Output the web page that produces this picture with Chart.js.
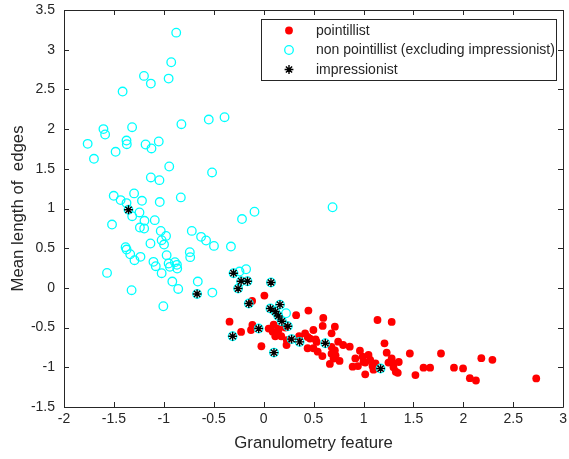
<!DOCTYPE html>
<html>
<head>
<meta charset="utf-8">
<script src="https://cdn.jsdelivr.net/npm/chart.js@4.4.1/dist/chart.umd.min.js"></script>
<style>
html,body{margin:0;padding:0;background:#fff;}
#wrap{width:569px;height:459px;position:relative;}
</style>
</head>
<body>
<div id="wrap"><canvas id="c" width="569" height="459"></canvas></div>
<script>
// ---- data ----
const xTicks = [-2, -1.5, -1, -0.5, 0, 0.5, 1, 1.5, 2, 2.5, 3];
const yTicks = [-1.5, -1, -0.5, 0, 0.5, 1, 1.5, 2, 2.5, 3, 3.5];

const seriesLabels = ["pointillist", "non pointillist (excluding impressionist)", "impressionist"];

const pointillistX = [0.007,-0.116,-0.342,-0.226,-0.113,-0.127,-0.023,0.05,0.1,0.09,0.149,0.116,0.176,0.232,0.229,0.325,0.448,0.597,0.591,0.498,0.415,0.355,0.464,0.52,0.44,0.498,0.541,0.588,0.713,0.68,0.746,0.796,0.862,0.713,0.68,0.70,0.663,0.964,0.918,0.991,1.05,1.017,1.067,0.891,0.944,1.017,1.09,1.14,1.282,1.21,1.232,1.282,1.30,1.323,1.464,1.776,1.353,2.18,2.291,1.343,1.52,1.601,1.667,1.906,1.997,2.065,2.126,2.73,0.76,0.68,0.72,0.149,0.216,0.44,0.53,1.0,1.12,1.25,1.3,1.1];
const pointillistY = [-0.097,-0.164,-0.425,-0.555,-0.467,-0.53,-0.735,-0.512,-0.462,-0.551,-0.53,-0.609,-0.609,-0.659,-0.719,-0.344,-0.286,-0.378,-0.479,-0.53,-0.572,-0.609,-0.638,-0.65,-0.76,-0.76,-0.803,-0.858,-0.488,-0.572,-0.677,-0.719,-0.74,-0.786,-0.828,-0.89,-0.958,-0.791,-0.888,-0.866,-0.845,-0.941,-0.908,-0.992,-0.984,-1.088,-0.984,-0.404,-0.429,-0.698,-0.816,-0.888,-0.95,-1.055,-0.826,-0.826,-0.933,-0.885,-0.906,-1.07,-1.098,-1.005,-1.005,-1.005,-1.014,-1.137,-1.166,-1.14,-0.92,-0.744,-0.849,-0.512,-0.5,-0.617,-0.68,-0.93,-0.95,-0.94,-1.0,-1.03];

const nonPointillistX = [-0.876,-0.926,-1.199,-1.13,-0.952,-1.413,-0.392,-0.55,-0.824,-1.605,-1.588,-1.318,-1.763,-1.374,-1.371,-1.183,-1.051,-1.124,-1.483,-1.7,-0.946,-0.517,-1.13,-1.044,-1.502,-1.433,-1.298,-1.374,-1.219,-1.041,-0.83,-0.092,-0.217,
  -1.317,-1.244,-1.519,-1.194,-1.091,-1.24,-1.197,-1.031,-0.978,-1.022,-0.998,-1.134,-0.72,-0.627,-0.577,-0.498,-0.328,-1.383,-1.373,-1.337,-1.294,-1.234,-0.972,-0.74,-0.736,-1.104,-1.081,-0.952,-0.939,-0.889,-0.869,-0.866,-1.022,-1.569,-0.915,-0.856,-1.323,-0.66,-0.514,-1.005,-0.242,-0.176,0.69,0.224];
const nonPointillistY = [3.215,2.842,2.67,2.573,2.636,2.473,2.15,2.12,2.062,2.0,1.932,2.024,1.814,1.856,1.81,1.806,1.844,1.756,1.714,1.626,1.529,1.454,1.391,1.357,1.16,1.106,1.19,1.068,1.097,1.081,1.14,0.959,0.867,
  0.903,0.95,0.798,0.845,0.853,0.76,0.748,0.718,0.655,0.601,0.546,0.559,0.718,0.643,0.597,0.529,0.521,0.513,0.483,0.424,0.349,0.391,0.412,0.45,0.387,0.328,0.273,0.307,0.265,0.324,0.29,0.244,0.185,0.189,0.08,-0.013,-0.029,0.08,-0.059,-0.231,0.206,0.235,1.016,-0.319];

const impressionistX = [-1.354,-0.302,-0.226,-0.162,-0.256,-0.667,0.073,-0.149,0.067,0.163,0.116,0.146,0.182,0.242,-0.05,-0.311,0.28,0.36,0.617,0.103,1.171];
const impressionistY = [0.984,0.185,0.084,0.084,-0.008,-0.076,0.068,-0.197,-0.26,-0.211,-0.298,-0.353,-0.42,-0.483,-0.512,-0.609,-0.645,-0.68,-0.697,-0.815,-1.016];

const toPts = (xs, ys) => xs.map((x, i) => ({x: x, y: ys[i]}));

const AX = '#262626';
const FONT = "'Liberation Sans', Arial, Helvetica, sans-serif";

function drawStar(ctx, cx, cy, r) {
  ctx.beginPath();
  ctx.moveTo(cx - r, cy); ctx.lineTo(cx + r, cy);
  ctx.moveTo(cx, cy - r); ctx.lineTo(cx, cy + r);
  const o = r * Math.SQRT1_2;
  ctx.moveTo(cx - o, cy - o); ctx.lineTo(cx + o, cy + o);
  ctx.moveTo(cx - o, cy + o); ctx.lineTo(cx + o, cy - o);
  ctx.stroke();
}

// box, inward tick marks (MATLAB style) and the legend inside the axes
const decorations = {
  id: 'decorations',
  afterDraw(chart) {
    const ctx = chart.ctx;
    const sx = chart.scales.x, sy = chart.scales.y;
    const left = Math.round(sx.getPixelForValue(xTicks[0]));
    const right = Math.round(sx.getPixelForValue(xTicks[xTicks.length - 1]));
    const top = Math.round(sy.getPixelForValue(yTicks[yTicks.length - 1]));
    const bottom = Math.round(sy.getPixelForValue(yTicks[0]));
    const L = 5;
    ctx.save();
    ctx.strokeStyle = AX;
    ctx.lineWidth = 1;
    ctx.beginPath();
    xTicks.forEach(v => {
      const p = Math.round(sx.getPixelForValue(v)) + 0.5;
      ctx.moveTo(p, bottom); ctx.lineTo(p, bottom - L);
      ctx.moveTo(p, top); ctx.lineTo(p, top + L);
    });
    yTicks.forEach(v => {
      const p = Math.round(sy.getPixelForValue(v)) + 0.5;
      ctx.moveTo(left, p); ctx.lineTo(left + L, p);
      ctx.moveTo(right, p); ctx.lineTo(right - L, p);
    });
    ctx.moveTo(left + 0.5, top + 0.5);
    ctx.lineTo(right + 0.5, top + 0.5);
    ctx.lineTo(right + 0.5, bottom + 0.5);
    ctx.lineTo(left + 0.5, bottom + 0.5);
    ctx.closePath();
    ctx.stroke();

    // legend
    const x0 = 261.5, y0 = 19.5, w = 295, h = 61;
    ctx.fillStyle = '#fff';
    ctx.fillRect(x0, y0, w, h);
    ctx.strokeStyle = AX;
    ctx.strokeRect(x0, y0, w, h);
    const rows = [30.5, 50, 69.5];
    const items = chart.data.datasets.filter(d => d.inLegend);
    ctx.font = '14px ' + FONT;
    ctx.textBaseline = 'middle';
    ctx.textAlign = 'left';
    items.forEach((d, i) => {
      const cy = rows[i], cx = 289;
      ctx.fillStyle = d.backgroundColor;
      ctx.strokeStyle = d.borderColor;
      ctx.lineWidth = d.borderWidth || 1;
      if (d.pointStyle === 'circle') {
        ctx.beginPath();
        ctx.arc(cx, cy, d.pointRadius, 0, Math.PI * 2);
        if (d.backgroundColor !== 'rgba(0,0,0,0)') ctx.fill();
        if (d.borderWidth) ctx.stroke();
      } else {
        drawStar(ctx, cx, cy, d.pointRadius);
      }
      ctx.fillStyle = AX;
      ctx.fillText(d.label, 316, cy + 0.5);
    });
    ctx.restore();
  }
};

new Chart(document.getElementById('c'), {
  type: 'scatter',
  data: {
    datasets: [
      {
        label: seriesLabels[0], inLegend: true,
        data: toPts(pointillistX, pointillistY),
        pointStyle: 'circle', pointRadius: 3.9, borderWidth: 0,
        backgroundColor: '#ff0000', borderColor: '#ff0000', order: 4
      },
      {
        label: seriesLabels[1], inLegend: true,
        data: toPts(nonPointillistX, nonPointillistY),
        pointStyle: 'circle', pointRadius: 4.3, borderWidth: 1.3,
        backgroundColor: 'rgba(0,0,0,0)', borderColor: '#00ffff', order: 3
      },
      {
        label: 'impressionist ring', inLegend: false,
        data: toPts(impressionistX, impressionistY),
        pointStyle: 'circle', pointRadius: 4.3, borderWidth: 1.3,
        backgroundColor: 'rgba(0,0,0,0)', borderColor: '#00ffff', order: 2
      },
      {
        label: seriesLabels[2], inLegend: true,
        data: toPts(impressionistX, impressionistY),
        pointStyle: 'star', pointRadius: 4.4, borderWidth: 1.4,
        backgroundColor: '#000', borderColor: '#000', order: 1
      }
    ]
  },
  options: {
    responsive: false,
    animation: false,
    events: [],
    layout: {padding: {left: 0, right: 4, top: 10, bottom: 0}},
    plugins: {legend: {display: false}, tooltip: {enabled: false}},
    elements: {point: {hoverRadius: 0}},
    scales: {
      x: {
        type: 'linear', min: xTicks[0], max: xTicks[xTicks.length - 1],
        afterBuildTicks(s) { s.ticks = xTicks.map(v => ({value: v})); },
        afterFit(s) { s.height = 52; s.paddingLeft = 0; s.paddingRight = 0; },
        grid: {display: false, drawTicks: false}, border: {display: false},
        ticks: {color: AX, font: {family: FONT, size: 14}, padding: 4, maxRotation: 0, autoSkip: false,
                callback: v => String(v)},
        title: {display: true, text: 'Granulometry feature', color: AX,
                font: {family: FONT, size: 16.8}, padding: {top: 0, bottom: 6}}
      },
      y: {
        type: 'linear', min: yTicks[0], max: yTicks[yTicks.length - 1],
        afterBuildTicks(s) { s.ticks = yTicks.map(v => ({value: v})); },
        afterFit(s) { s.width = 64; s.paddingTop = 0; s.paddingBottom = 0; },
        grid: {display: false, drawTicks: false}, border: {display: false},
        ticks: {color: AX, font: {family: FONT, size: 14}, padding: 9, autoSkip: false,
                callback: v => String(v)},
        title: {display: true, text: 'Mean length of  edges', color: AX,
                font: {family: FONT, size: 16.8}, padding: {top: 8, bottom: 0}}
      }
    }
  },
  plugins: [decorations]
});
</script>
</body>
</html>
